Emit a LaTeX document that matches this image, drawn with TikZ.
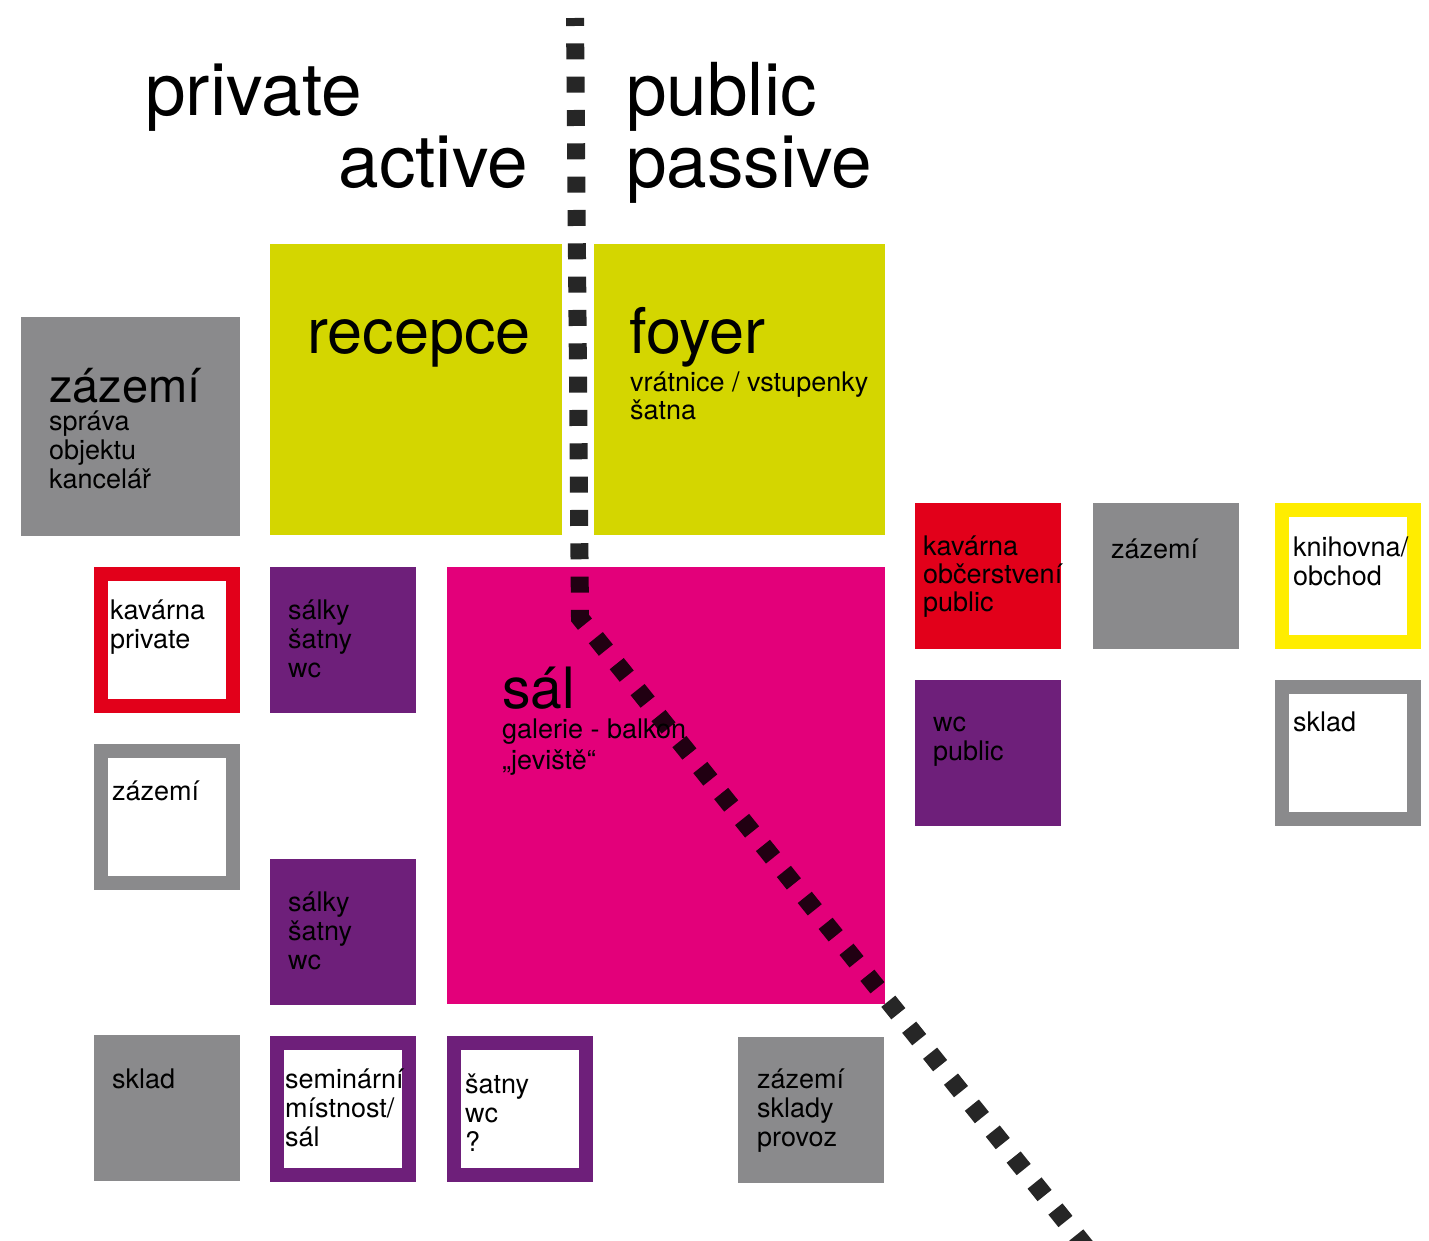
\documentclass[tikz,border=0pt]{standalone}
\usepackage{fontspec}
\setmainfont{TeX Gyre Heros}
\usetikzlibrary{positioning}
\definecolor{lime1}{HTML}{D4D600}
\definecolor{gray1}{HTML}{8A8A8C}
\definecolor{red1}{HTML}{E2001A}
\definecolor{purple1}{HTML}{6E1F7A}
\definecolor{pink1}{HTML}{E3007A}
\definecolor{yellow1}{HTML}{FFED00}
% lines of a label, baseline at the first line
\newcommand{\rows}[1]{\begin{tabular}[t]{@{}l@{}}#1\end{tabular}}

\begin{document}
\begin{tikzpicture}[
    x=1pt, y=-1pt,
    room/.style={rectangle, anchor=north west, inner sep=0pt, outer sep=0pt,
                 minimum width=146pt, minimum height=146pt},
    full/.style={room, fill=#1},
    ring/.style={room, fill=#1, path picture={\fill[white]
        ([shift={(14pt,-14pt)}]path picture bounding box.north west) rectangle
        ([shift={(-14pt,14pt)}]path picture bounding box.south east);}},
    lbl/.style={anchor=base west, inner sep=0pt,
                font=\fontsize{27}{29}\selectfont},
    big/.style={anchor=base west, inner sep=0pt, font=\fontsize{63}{70}\selectfont},
    head/.style={anchor=base west, inner sep=0pt, font=\fontsize{73}{80}\selectfont},
    divider/.style={line width=18pt, black, opacity=0.85,
                    dash pattern=on 16pt off 17.33pt, dash phase=8pt},
]
\useasboundingbox[fill=white] (0,0) rectangle (1429,1241);

% headings
\node[head] (hprivate) at (145,116) {private};
\node[head, anchor=base east] (hactive) at (528,188) {active};
\node[head] (hpublic) at (626,116) {public};
\node[head] (hpassive) at (626,188) {passive};

% large rooms
\node[full=lime1, minimum width=292pt, minimum height=291pt] (recepce) at (270,244) {};
\node[full=lime1, minimum width=291pt, minimum height=291pt] (foyer) at (594,244) {};
\node[full=gray1, minimum width=219pt, minimum height=219pt] (zazemi) at (21,317) {};
\node[full=pink1, minimum width=438pt, minimum height=437pt] (sal) at (447,567) {};

% small rooms, left part
\node[ring=red1] (kavprv) at (94,567) {};
\node[full=purple1] (salky1) at (270,567) {};
\node[ring=gray1] (zaz2) at (94,744) {};
\node[full=purple1] (salky2) at (270,859) {};
\node[full=gray1] (sklad1) at (94,1035) {};
\node[ring=purple1] (seminar) at (270,1036) {};
\node[ring=purple1] (satny) at (447,1036) {};
\node[full=gray1] (zazprov) at (738,1037) {};

% small rooms, right part
\node[full=red1] (kavpub) at (915,503) {};
\node[full=gray1] (zaz3) at (1093,503) {};
\node[ring=yellow1] (knihovna) at (1275,503) {};
\node[full=purple1] (wcpub) at (915,680) {};
\node[ring=gray1] (sklad2) at (1275,680) {};

% texts
\node[big] (t-recepce) at (307,353) {recepce};
\node[big] (t-foyer) at (629,353) {foyer};
\node[lbl, font=\fontsize{27}{28}\selectfont] (t-foyer2) at (630,391) {\rows{vrátnice / vstupenky\\šatna}};
\node[big, font=\fontsize{47}{50}\selectfont, text depth=0pt] (t-zazemi) at (49,402) {zázemí};
\node[lbl] (t-zazemi2) at (49,430) {\rows{správa\\objektu\\kancelář}};
\node[big, font=\fontsize{57}{60}\selectfont] (t-sal) at (502,708) {sál};
\node[lbl, font=\fontsize{27}{31}\selectfont] (t-sal2) at (502,738) {\rows{galerie - balkon\\„jeviště“}};

\node[lbl] (t-kavprv) at (110,619) {\rows{kavárna\\private}};
\node[lbl] (t-salky1) at (288,619) {\rows{sálky\\šatny\\wc}};
\node[lbl] (t-zaz2) at (112,800) {zázemí};
\node[lbl] (t-salky2) at (288,911) {\rows{sálky\\šatny\\wc}};
\node[lbl] (t-sklad1) at (112,1088) {sklad};
\node[lbl] (t-seminar) at (285,1088) {\rows{seminární\\místnost/\\sál}};
\node[lbl] (t-satny) at (465,1093) {\rows{šatny\\wc\\?}};
\node[lbl] (t-zazprov) at (757,1088) {\rows{zázemí\\sklady\\provoz}};

\node[lbl, font=\fontsize{27}{28}\selectfont] (t-kavpub) at (923,555) {\rows{kavárna\\občerstvení\\public}};
\node[lbl] (t-zaz3) at (1111,558) {zázemí};
\node[lbl] (t-knihovna) at (1293,556) {\rows{knihovna/\\obchod}};
\node[lbl] (t-wcpub) at (933,731) {\rows{wc\\public}};
\node[lbl] (t-sklad2) at (1293,731) {sklad};

% dividing line
\coordinate (dtop) at (575,18);
\coordinate (dbend) at (580,618);
\coordinate (dend) at (1090,1252);
\draw[divider] (dtop) -- (dbend) -- (dend);
\end{tikzpicture}
\end{document}
